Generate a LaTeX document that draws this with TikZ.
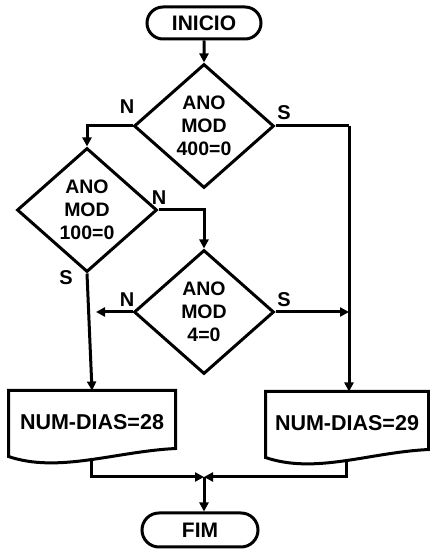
\documentclass[tikz,border=0pt]{standalone}
\usepackage{fontspec}
\setmainfont{Liberation Sans}
\usetikzlibrary{shapes.misc, shapes.geometric, arrows.meta}

\begin{document}
\begin{tikzpicture}[x=1pt, y=1pt, line width=3pt,
    term/.style={rounded rectangle, draw, minimum width=114pt, minimum height=32pt, inner sep=0pt, font=\fontsize{21}{25}\selectfont\bfseries},
    test/.style={diamond, draw, minimum width=140pt, minimum height=124pt, inner sep=0pt, align=center, font=\fontsize{19.5}{23}\selectfont\bfseries},
    doc/.style={minimum width=164pt, minimum height=60pt, inner sep=0pt, font=\fontsize{21.5}{25}\selectfont\bfseries},
    lbl/.style={font=\fontsize{20}{22}\selectfont\bfseries},
    arr/.style={-{Triangle[length=9pt, width=9pt]}}]
    \useasboundingbox (0,0) rectangle (430,550);
    % blocks
    \node[term] (ini) at (204,527) {INICIO};
    \node[test] (d1) at (204,424) {ANO\\MOD\\400=0};
    \node[test] (d2) at (87,340) {ANO\\MOD\\100=0};
    \node[test] (d3) at (204,238) {ANO\\MOD\\4=0};
    \node[doc] (b28) at (92,128) {NUM-DIAS=28};
    \node[doc, minimum width=160pt] (b29) at (347,127) {NUM-DIAS=29};
    \node[term, minimum width=116pt, minimum height=34pt] (fim) at (200,20) {FIM};
    \foreach \bx in {b28,b29}
        \draw (\bx.north west) -- (\bx.north east) -- ([yshift=5pt]\bx.south east)
            .. controls ([shift={(-60pt,2pt)}]\bx.south east) and ([shift={(50pt,-20pt)}]\bx.south west) ..
            coordinate[pos=0.48] (\bx-bot) ([yshift=-3pt]\bx.south west) -- cycle;
    % labels
    \node[lbl] (n1) at (127,443) {N};
    \node[lbl] (s1) at (284,437) {S};
    \node[lbl] (n2) at (159,352) {N};
    \node[lbl] (s2) at (66,272) {S};
    \node[lbl] (n3) at (127,250) {N};
    \node[lbl] (s3) at (284,250) {S};
    % connectors
    \coordinate (rt) at (349,424);
    \coordinate (lt) at (96,238);
    \coordinate (jn) at (204,73);
    \draw[arr] (ini) -- (d1.north);
    \draw[arr] (d1.west) -| (d2.north);
    \draw (d1.east) -- (rt);
    \draw[arr] (rt) -- (rt |- b29.north);
    \draw[arr] (d2.east) -| (d3.north);
    \draw[arr] (d2.south) -- (b28.north);
    \draw[arr] (d3.west) -- (lt);
    \draw[arr] (d3.east) -- (d3.east -| rt);
    \draw[arr] (b28-bot) |- (jn);
    \draw[arr] (b29-bot) |- (jn);
    \draw[arr] (jn) -- (jn |- fim.north);
\end{tikzpicture}
\end{document}
